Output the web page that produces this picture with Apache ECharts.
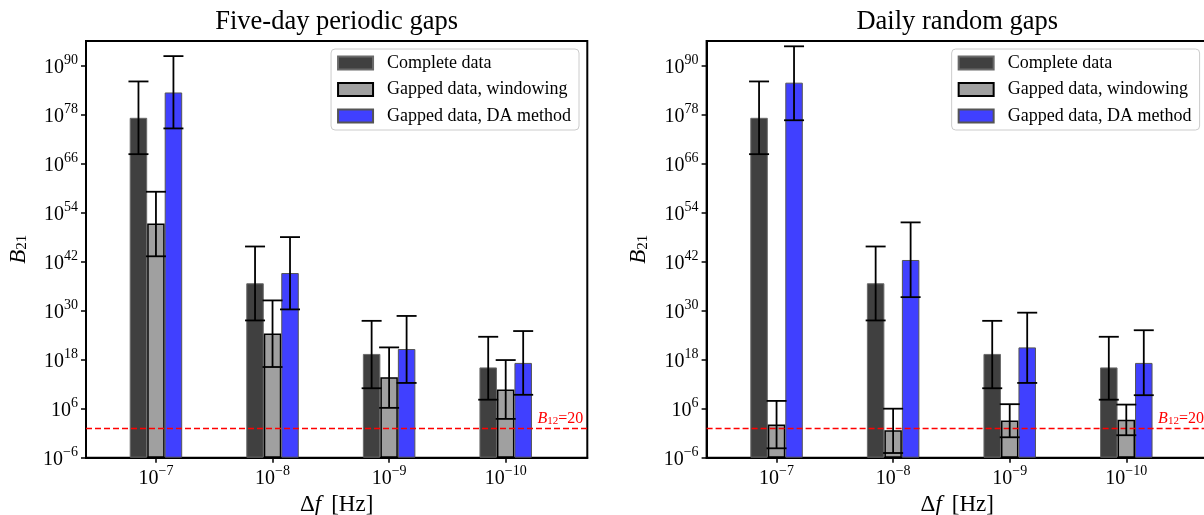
<!DOCTYPE html>
<html><head><meta charset="utf-8">
<script src="https://cdn.jsdelivr.net/npm/echarts@6/dist/echarts.min.js"></script>
<style>html,body{margin:0;padding:0;background:#fff}#c{width:1204px;height:515px}</style>
</head><body><div id="c"></div>
<script>
// ---------- data (log10 of the Bayes factor B21) ----------
const categories = ['10^-7', '10^-8', '10^-9', '10^-10'];
const tickExponents = [-7, -8, -9, -10];            // x tick labels: 10^e Hz
const yTickExponents = [-6, 6, 18, 30, 42, 54, 66, 78, 90];
const seriesNames = ['Complete data', 'Gapped data, windowing', 'Gapped data, DA method'];
const panelTitles = ['Five-day periodic gaps', 'Daily random gaps'];

const completeLog = [77.2, 36.7, 19.4, 16.1];
const completeErr = [[68.3, 86.1], [27.6, 45.7], [11.0, 27.5], [8.2, 23.6]];

const periodicWindowLog = [51.3, 24.4, 13.7, 10.7];
const periodicWindowErr = [[43.3, 59.1], [16.2, 32.5], [6.2, 21.0], [3.5, 17.9]];
const periodicDALog = [83.4, 39.2, 20.6, 17.2];
const periodicDAErr = [[74.6, 92.3], [30.3, 48.0], [12.3, 28.7], [9.4, 25.0]];

const randomWindowLog = [2.1, 0.7, 3.1, 3.3];
const randomWindowErr = [[-3.7, 7.9], [-4.85, 6.0], [-1.0, 7.1], [-0.5, 7.0]];
const randomDALog = [85.8, 42.4, 21.0, 17.2];
const randomDAErr = [[76.6, 94.7], [33.3, 51.6], [12.3, 29.5], [9.3, 25.2]];

const thresholdB = 20;

// ---------- styling / layout ----------
const Y_MIN_EXP = -6, Y_MAX_EXP = 96;   // y axis spans 10^-6 .. 10^96 (axis counts decades above 10^-6)
const SERIF = '"Liberation Serif", "Times New Roman", serif';
const COLORS = ['#404040', '#a0a0a0', '#4040ff'];
const BORDERS = [['#6a6a6a', 1], ['#000000', 1.5], ['#555555', 1]];
const OFFSETS = [-0.15, 0, 0.15];
const PLOT_W = 501.3, PLOT_H = 416.7, TOP = 41;
const LEFTS = [86, 706.6];

const panels = [
  { title: panelTitles[0], vals: [completeLog, periodicWindowLog, periodicDALog], errs: [completeErr, periodicWindowErr, periodicDAErr] },
  { title: panelTitles[1], vals: [completeLog, randomWindowLog, randomDALog], errs: [completeErr, randomWindowErr, randomDAErr] }
];

const shift = v => v - Y_MIN_EXP;
const expText = e => (e < 0 ? '\u2212' + Math.abs(e) : String(e));
const tickRich = {
  b: { fontFamily: SERIF, fontSize: 20, color: '#000', lineHeight: 24, verticalAlign: 'bottom' },
  s: { fontFamily: SERIF, fontSize: 14, color: '#000', lineHeight: 16, verticalAlign: 'top' }
};

const grid = [], xAxis = [], yAxis = [], series = [], legend = [], graphic = [];

panels.forEach((p, g) => {
  grid.push({ left: LEFTS[g], top: TOP, width: PLOT_W, height: PLOT_H, outerBoundsMode: 'none', containLabel: false,
    show: true, borderColor: '#000', borderWidth: 2, backgroundColor: 'transparent' });
  xAxis.push({
    gridIndex: g, type: 'value', min: -0.6, max: 3.7,
    splitLine: { show: false },
    axisLine: { show: true, onZero: false, lineStyle: { color: '#000', width: 2 } },
    axisTick: { show: true, customValues: [0, 1, 2, 3], length: 5, lineStyle: { color: '#000', width: 1.5 } },
    axisLabel: {
      customValues: [0, 1, 2, 3], margin: 7,
      formatter: v => '{b|10}{s|' + expText(tickExponents[Math.round(v)]) + '}',
      rich: tickRich
    },
    name: '{r|\u0394}{i|f}{g|}{r|[Hz]}', nameLocation: 'middle', nameGap: 27,
    nameTextStyle: { rich: {
      r: { fontFamily: SERIF, fontSize: 23, color: '#000' },
      i: { fontFamily: SERIF, fontSize: 23, fontStyle: 'italic', color: '#000' },
      g: { width: 10 }
    } }
  });
  const yt = yTickExponents.map(shift);
  yAxis.push({
    gridIndex: g, type: 'value', min: 0, max: shift(Y_MAX_EXP),
    splitLine: { show: false },
    axisLine: { show: true, onZero: false, lineStyle: { color: '#000', width: 2 } },
    axisTick: { show: true, customValues: yt, length: 5, lineStyle: { color: '#000', width: 1.5 } },
    axisLabel: {
      customValues: yt, margin: 8,
      formatter: v => '{b|10}{s|' + expText(Math.round(v + Y_MIN_EXP)) + '}',
      rich: tickRich
    },
    name: '{i|B}{s|21}', nameLocation: 'middle', nameRotate: 90, nameGap: 56,
    nameTextStyle: { rich: {
      i: { fontFamily: SERIF, fontSize: 23, fontStyle: 'italic', color: '#000', lineHeight: 26, verticalAlign: 'bottom' },
      s: { fontFamily: SERIF, fontSize: 15, color: '#000', lineHeight: 12, verticalAlign: 'bottom' }
    } }
  });

  p.vals.forEach((vals, k) => {
    series.push({
      type: 'bar', name: seriesNames[k], xAxisIndex: g, yAxisIndex: g,
      data: vals.map((v, i) => [i, shift(v)]),
      barWidth: 17.5, barGap: '0%', z: 2,
      itemStyle: { color: COLORS[k], borderColor: BORDERS[k][0], borderWidth: BORDERS[k][1] },
      emphasis: { disabled: true }
    });
  });

  const errData = [];
  p.errs.forEach((errs, k) => errs.forEach((e, i) => errData.push([i + OFFSETS[k], shift(e[0]), shift(e[1])])));
  series.push({
    type: 'custom', xAxisIndex: g, yAxisIndex: g, z: 5, silent: true,
    encode: { x: 0, y: [1, 2] },
    data: errData,
    renderItem: (params, api) => {
      const x = api.value(0);
      const lo = api.coord([x, api.value(1)]);
      const hi = api.coord([x, api.value(2)]);
      const cap = 10, st = { stroke: '#000', lineWidth: 1.8 };
      return { type: 'group', children: [
        { type: 'line', shape: { x1: lo[0], y1: lo[1], x2: hi[0], y2: hi[1] }, style: st },
        { type: 'line', shape: { x1: lo[0] - cap, y1: lo[1], x2: lo[0] + cap, y2: lo[1] }, style: st },
        { type: 'line', shape: { x1: hi[0] - cap, y1: hi[1], x2: hi[0] + cap, y2: hi[1] }, style: st }
      ] };
    },
    markLine: {
      silent: true, symbol: 'none', animation: false,
      data: [{ yAxis: shift(Math.log10(thresholdB)) }],
      lineStyle: { color: '#ff0000', type: [6, 3], width: 1.4 },
      label: {
        show: true, position: 'insideEndTop', distance: [4, 1],
        formatter: '{i|B}{s|12}{n|=' + thresholdB + '}',
        rich: {
          i: { fontFamily: SERIF, fontSize: 16, fontStyle: 'italic', color: '#ff0000', lineHeight: 16, verticalAlign: 'bottom' },
          s: { fontFamily: SERIF, fontSize: 11, color: '#ff0000', lineHeight: 10, verticalAlign: 'bottom' },
          n: { fontFamily: SERIF, fontSize: 16, color: '#ff0000', lineHeight: 16, verticalAlign: 'bottom' }
        }
      }
    }
  });

  legend.push({
    data: seriesNames, top: 49, right: 1204 - (LEFTS[g] + PLOT_W - 8.3),
    orient: 'vertical', icon: 'rect', itemWidth: 35, itemHeight: 13, itemGap: 8.5,
    padding: [5, 8, 5, 6], borderColor: '#cccccc', borderWidth: 1, borderRadius: 4,
    backgroundColor: 'rgba(255,255,255,0.8)', selectedMode: false,
    textStyle: { fontFamily: SERIF, fontSize: 18, lineHeight: 16, color: '#000', padding: [0, 0, 0, 9] }
  });

  graphic.push({
    type: 'text', x: LEFTS[g] + PLOT_W / 2, y: 22, silent: true,
    style: { text: p.title, font: '26.5px ' + SERIF, fill: '#000', textAlign: 'center', textVerticalAlign: 'middle' }
  });
});

const chart = echarts.init(document.getElementById('c'), null, { renderer: 'canvas' });
chart.setOption({ animation: false, backgroundColor: '#fff', grid, xAxis, yAxis, series, legend, graphic, tooltip: { show: false } });
</script></body></html>
